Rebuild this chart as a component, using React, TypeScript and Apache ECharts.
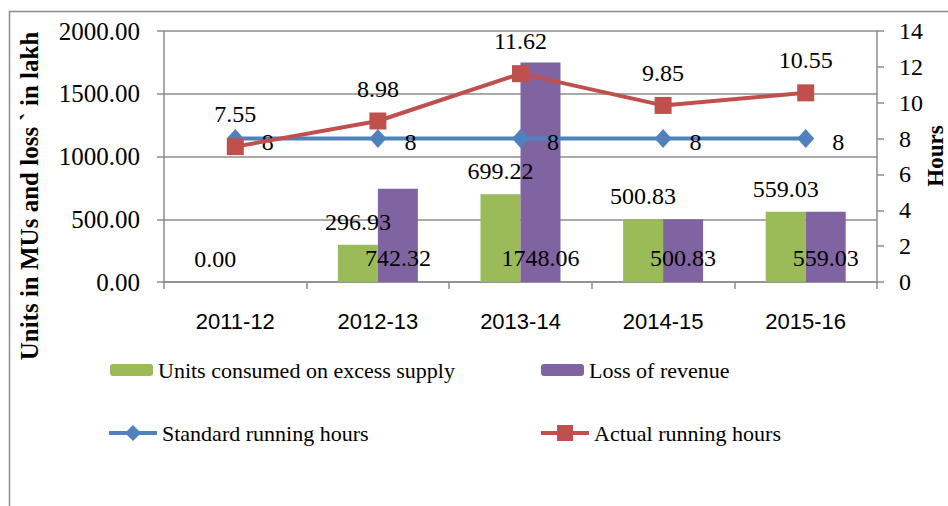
import React, { useEffect, useRef } from "react";
import * as echarts from "echarts";

const categories = ["2011-12", "2012-13", "2013-14", "2014-15", "2015-16"];
const unitsConsumed: (number | null)[] = [0, 296.93, 699.22, 500.83, 559.03];
const lossOfRevenue: (number | null)[] = [null, 742.32, 1748.06, 500.83, 559.03];
const standardHours = [8, 8, 8, 8, 8];
const actualHours = [7.55, 8.98, 11.62, 9.85, 10.55];

const leftTitle = "Units in MUs and loss ` in lakh";
const rightTitle = "Hours";

const SERIF = "Liberation Serif";
const SANS = "Liberation Sans";
const GRID_COLOR = "#8c8c8c";

export default function App() {
  const ref = useRef<HTMLDivElement>(null);
  useEffect(() => {
    if (!ref.current) return;
    const chart = echarts.init(ref.current, undefined, { renderer: "svg" });
    const fmt2 = (p: any) => (p.value == null ? "" : Number(p.value).toFixed(2));
    const legendText = { fontFamily: SERIF, fontSize: 22, color: "#000" };
    chart.setOption({
      animation: false,
      backgroundColor: "#fff",
      textStyle: { fontFamily: SERIF },
      grid: { left: 164, right: 71, top: 31, bottom: 224, containLabel: false },
      xAxis: {
        type: "category",
        data: categories,
        boundaryGap: true,
        axisLine: { lineStyle: { color: GRID_COLOR, width: 1.5 } },
        axisTick: { show: true, length: 7, alignWithLabel: false, lineStyle: { color: GRID_COLOR, width: 1.5 } },
        axisLabel: { fontFamily: SANS, fontSize: 22, color: "#000", margin: 28 },
      },
      yAxis: [
        {
          type: "value",
          min: 0,
          max: 2000,
          interval: 500,
          axisLine: { show: true, lineStyle: { color: GRID_COLOR, width: 1.5 } },
          axisTick: { show: true, length: 7, lineStyle: { color: GRID_COLOR, width: 1.5 } },
          splitLine: { show: true, lineStyle: { color: GRID_COLOR, width: 1.5 } },
          axisLabel: {
            fontFamily: SERIF,
            fontSize: 25,
            color: "#000",
            margin: 24,
            formatter: (v: number) => v.toFixed(2),
          },
        },
        {
          type: "value",
          min: 0,
          max: 14,
          interval: 2,
          position: "right",
          axisLine: { show: true, lineStyle: { color: GRID_COLOR, width: 1.5 } },
          axisTick: { show: true, length: 7, lineStyle: { color: GRID_COLOR, width: 1.5 } },
          splitLine: { show: false },
          axisLabel: { fontFamily: SERIF, fontSize: 24, color: "#000", margin: 22 },
        },
      ],
      legend: [
        {
          data: ["Units consumed on excess supply"],
          left: 110,
          top: 359,
          padding: 0,
          itemWidth: 43,
          itemHeight: 12,
          textStyle: legendText,
        },
        {
          data: ["Loss of revenue"],
          left: 541,
          top: 359,
          padding: 0,
          itemWidth: 43,
          itemHeight: 12,
          textStyle: legendText,
        },
        {
          data: ["Standard running hours"],
          left: 107,
          top: 422,
          padding: 0,
          itemWidth: 48,
          itemHeight: 20,
          lineStyle: { width: 4 },
          textStyle: legendText,
        },
        {
          data: ["Actual running hours"],
          left: 539,
          top: 422,
          padding: 0,
          itemWidth: 48,
          itemHeight: 20,
          lineStyle: { width: 4 },
          textStyle: legendText,
        },
      ],
      series: [
        {
          name: "Units consumed on excess supply",
          type: "bar",
          data: unitsConsumed,
          barWidth: 40,
          barGap: "0%",
          itemStyle: { color: "#9BBB59" },
          label: {
            show: true,
            position: "top",
            distance: 11,
            formatter: fmt2,
            fontFamily: SERIF,
            fontSize: 24,
            color: "#000",
          },
          z: 2,
        },
        {
          name: "Loss of revenue",
          type: "bar",
          data: lossOfRevenue,
          barWidth: 40,
          barGap: "0%",
          itemStyle: { color: "#8064A2" },
          label: {
            show: true,
            position: "insideBottom",
            distance: 12,
            formatter: fmt2,
            fontFamily: SERIF,
            fontSize: 24,
            color: "#000",
          },
          z: 2,
        },
        {
          name: "Standard running hours",
          type: "line",
          yAxisIndex: 1,
          data: standardHours,
          symbol: "diamond",
          symbolSize: [17, 19],
          lineStyle: { color: "#4F81BD", width: 4 },
          itemStyle: { color: "#4F81BD" },
          label: {
            show: true,
            position: "right",
            distance: 18,
            offset: [0, 3],
            formatter: (p: any) => String(p.value),
            fontFamily: SERIF,
            fontSize: 24,
            color: "#000",
          },
          z: 3,
        },
        {
          name: "Actual running hours",
          type: "line",
          yAxisIndex: 1,
          data: actualHours,
          symbol: "rect",
          symbolSize: 17,
          lineStyle: { color: "#C0504D", width: 4 },
          itemStyle: { color: "#C0504D" },
          label: {
            show: true,
            position: "top",
            distance: 12,
            formatter: fmt2,
            fontFamily: SERIF,
            fontSize: 24,
            color: "#000",
          },
          z: 4,
        },
      ],
      graphic: [
        {
          type: "rect",
          shape: { x: 9.5, y: 11.5, width: 960, height: 520 },
          style: { fill: "none", stroke: "#8c8c8c", lineWidth: 1.5 },
          silent: true,
          z: -10,
        },
        {
          type: "text",
          x: 29,
          y: 196,
          rotation: Math.PI / 2,
          style: {
            text: leftTitle,
            fontFamily: SERIF,
            fontWeight: "bold",
            fontSize: 25,
            fill: "#000",
            align: "center",
            verticalAlign: "middle",
          },
        },
        {
          type: "text",
          x: 935,
          y: 156,
          rotation: Math.PI / 2,
          style: {
            text: rightTitle,
            fontFamily: SERIF,
            fontWeight: "bold",
            fontSize: 23,
            fill: "#000",
            align: "center",
            verticalAlign: "middle",
          },
        },
      ],
    });
    return () => chart.dispose();
  }, []);
  return (
    <div
      ref={ref}
      style={{ position: "absolute", left: 0, top: 0, width: 948, height: 506, background: "#fff" }}
    />
  );
}
